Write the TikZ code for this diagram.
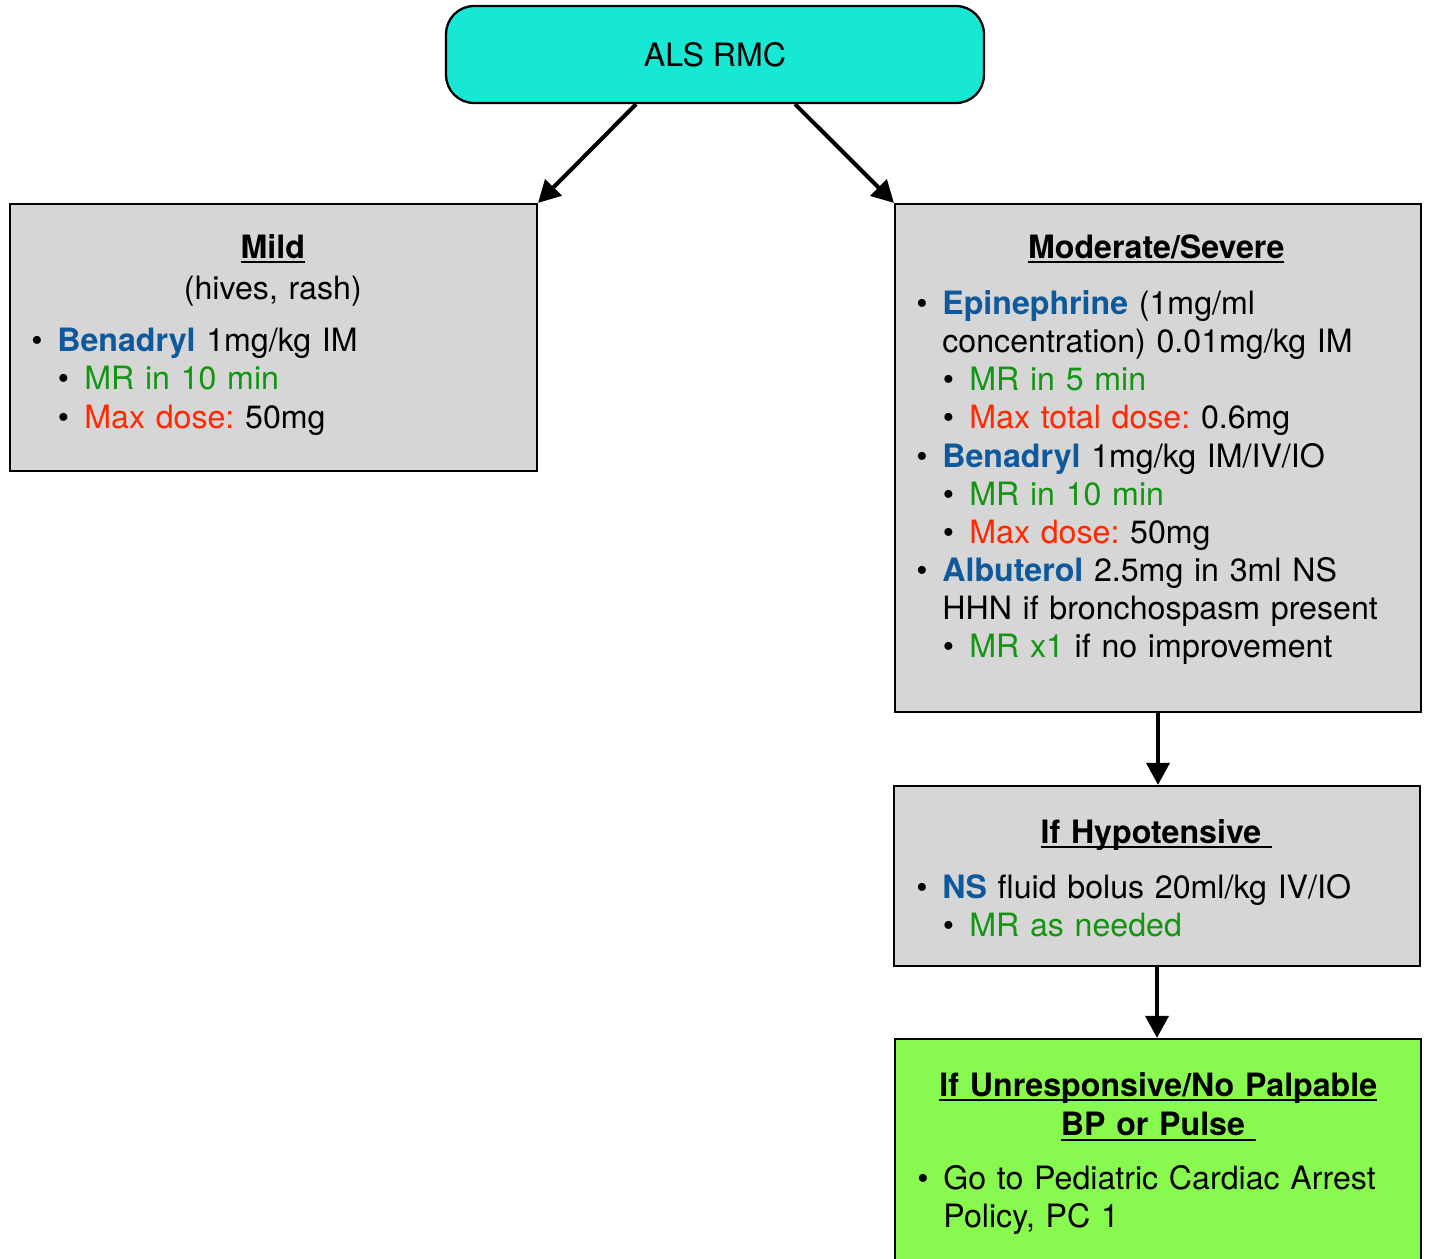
\documentclass[tikz,border=0pt]{standalone}
\usepackage{fontspec}
\setmainfont{TeX Gyre Heros}
\usetikzlibrary{arrows.meta}
\usetikzlibrary{positioning}
\frenchspacing

\definecolor{rmcfill}{HTML}{17E8D3}
\definecolor{boxfill}{HTML}{D6D6D6}
\definecolor{arrestfill}{HTML}{88F94F}
\definecolor{drugblue}{RGB}{14,88,156}
\definecolor{repgreen}{RGB}{18,150,18}
\definecolor{maxred}{RGB}{255,40,0}

\newcommand\drug[1]{\textbf{\color{drugblue}#1}}
\newcommand\rep[1]{{\color{repgreen}#1}}
\newcommand\maxd[1]{{\color{maxred}#1}}
\newcommand\bul{\makebox[0.52cm][l]{\textbullet}}
\newcommand\subbul{\hspace*{0.53cm}\makebox[0.53cm][l]{\textbullet}}
\newcommand\cont{\hspace*{0.52cm}}
\newcommand\hdr[1]{\makebox[\linewidth]{\setbox0\hbox{\bfseries #1}\rlap{\rule[-3pt]{\wd0}{1.2pt}}\box0}}

\tikzset{panel/.style = {draw, line width=1.3pt, fill=boxfill, inner sep=0pt},
         body/.style  = {anchor=base west, align=left, inner sep=0pt,
                         font=\fontsize{18.3}{21.7}\selectfont},
         flow/.style  = {line width=2.3pt, -{Triangle[length=12.5pt, width=13pt]}}}

\begin{document}
\begin{tikzpicture}[x=0.02cm, y=-0.02cm]
    \useasboundingbox (0,0) rectangle (1429,1258);

    \node [panel, fill=rmcfill, rounded corners=0.56cm, minimum width=10.76cm, minimum height=1.94cm,
           font=\fontsize{18.3}{21.7}\selectfont] (rmc) at (715,54.5) {ALS RMC};
    \node [panel, minimum width=10.54cm, minimum height=5.34cm] (mild) at (273.5,337.5) {};
    \node [panel, minimum width=10.52cm, minimum height=10.16cm] (mod) at (1158,458) {};
    \node [panel, minimum width=10.52cm, minimum height=3.6cm] (hypo) at (1157,876) {};
    \node [panel, fill=arrestfill, minimum width=10.52cm, minimum height=5.2cm] (arrest) at (1158,1169) {};

    \node [body, text width=9.66cm] (mildtxt) at (31,258) {%
      \hdr{Mild}\\[2pt]
      \makebox[\linewidth]{(hives, rash)}\\[8pt]
      \bul\drug{Benadryl} 1mg/kg IM\\
      \subbul\rep{MR in 10 min}\\
      \subbul\maxd{Max dose:} 50mg};

    \node [body, text width=9.6cm] (modtxt) at (916,258) {%
      \hdr{Moderate/Severe}\\[10.5pt]
      \bul\drug{Epinephrine} (1mg/ml\\
      \cont concentration) 0.01mg/kg IM\\
      \subbul\rep{MR in 5 min}\\
      \subbul\maxd{Max total dose:} 0.6mg\\
      \bul\drug{Benadryl} 1mg/kg IM/IV/IO\\
      \subbul\rep{MR in 10 min}\\
      \subbul\maxd{Max dose:} 50mg\\
      \bul\drug{Albuterol} 2.5mg in 3ml NS\\
      \cont HHN if bronchospasm present\\
      \subbul\rep{MR x1} if no improvement};

    \node [body, text width=9.6cm] (hypotxt) at (916,843) {%
      \hdr{If Hypotensive\ }\\[10pt]
      \bul\drug{NS} fluid bolus 20ml/kg IV/IO\\
      \subbul\rep{MR as needed}};

    \node [body, text width=9.64cm] (arresttxt) at (917,1096) {%
      \hdr{If Unresponsive/No Palpable}\\[1pt]
      \hdr{BP or Pulse\ }\\[9pt]
      \bul Go to Pediatric Cardiac Arrest\\
      \cont Policy, PC 1};

    \draw [flow] ([xshift=-1.58cm]rmc.south) -- (mild.north east);
    \draw [flow] ([xshift=1.6cm]rmc.south) -- (mod.north west);
    \draw [flow] (mod.south) -- (mod.south |- hypo.north);
    \draw [flow] (hypo.south) -- (hypo.south |- arrest.north);
\end{tikzpicture}
\end{document}
